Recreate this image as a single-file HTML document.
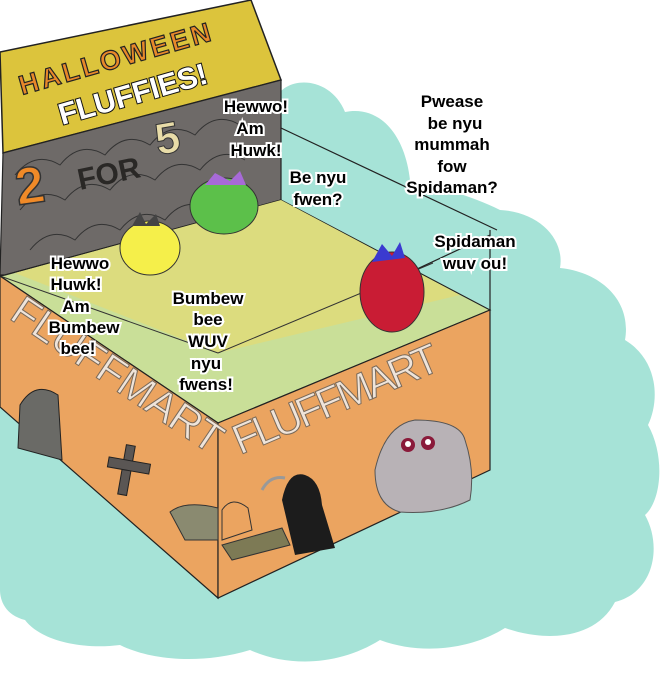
<!DOCTYPE html>
<html><head><meta charset="utf-8"><style>
html,body{margin:0;padding:0;background:#fff;}
svg{display:block}
.t{font-family:"Liberation Sans",sans-serif;font-weight:bold;font-size:17px;fill:#000;stroke:#fff;stroke-width:4px;paint-order:stroke;text-anchor:middle;}
.fm{font-family:"Liberation Sans",sans-serif;font-size:42px;fill:#efe4da;stroke:#7a6a5a;stroke-width:1px;}
</style></head><body>
<svg width="670" height="694" viewBox="0 0 670 694" xmlns="http://www.w3.org/2000/svg">
<path d="M275 100 C285 75,330 75,345 112 C380 105,405 135,410 180 C440 188,470 195,500 210 C540 212,565 240,560 268 C600 272,632 300,625 340 C658 360,660 400,648 425 C665 455,662 500,645 515 C662 545,655 592,615 602 C595 640,545 642,505 628 C470 650,420 655,380 640 C340 665,290 668,250 650 C200 665,150 660,120 645 C80 650,40 640,25 620 C5 615,0 600,0 590 L0 400 L275 200 Z" fill="#a6e3d7"/>
<polygon points="0,52 251,0 281,80 3,153" fill="#dcc43c" stroke="#222" stroke-width="1.5"/>
<polygon points="3,153 281,80 281,200 5,275 0,275" fill="#6e6a68" stroke="#222" stroke-width="1.2"/>
<g fill="none" stroke="#333" stroke-width="1">
<path d="M30 250 q20 -25 45 -10 q20 -25 45 -10 q20 -25 45 -10 q20 -25 45 -10 q20 -25 45 -10"/>
<path d="M20 210 q20 -25 45 -10 q20 -25 45 -10 q20 -25 45 -10 q20 -25 45 -10 q20 -25 45 -10"/>
<path d="M15 175 q20 -25 45 -10 q20 -25 45 -10 q20 -25 45 -10 q20 -25 45 -10 q20 -25 45 -10"/>
</g>
<polygon points="5,275 281,200 490,310 218,423 0,276" fill="#c9df98" stroke="#222" stroke-width="1.2"/>
<polygon points="15,273 281,200 460,295 218,353" fill="#dcdc7e"/>
<line x1="0" y1="276" x2="218" y2="353" stroke="#333" stroke-width="1"/>
<line x1="218" y1="353" x2="433" y2="263" stroke="#333" stroke-width="1"/>
<polygon points="0,276 218,423 218,598 0,407" fill="#eba460" stroke="#222" stroke-width="1.2"/>
<polygon points="218,423 490,310 490,470 218,598" fill="#eba460" stroke="#222" stroke-width="1.2"/>
<g stroke="#222" stroke-width="1.2" fill="none">
<line x1="281" y1="128" x2="497" y2="230"/>
<line x1="490" y1="230" x2="490" y2="310"/>
<line x1="372" y1="290" x2="490" y2="235"/>
</g>
<text x="22" y="95" transform="rotate(-16 22 95)" font-family="Liberation Sans,sans-serif" font-weight="bold" font-size="27" fill="#e8882a" stroke="#222" stroke-width="1.2" letter-spacing="3">HALLOWEEN</text>
<text x="62" y="125" transform="rotate(-16 62 125)" font-family="Liberation Sans,sans-serif" font-weight="bold" font-size="30" fill="#fff" stroke="#111" stroke-width="2" paint-order="stroke">FLUFFIES!</text>
<text x="18" y="205" font-family="Liberation Sans,sans-serif" font-weight="bold" font-size="52" fill="#f08a28" stroke="#333" stroke-width="1.5" transform="rotate(-8 18 205)">2</text>
<text x="80" y="190" font-family="Liberation Sans,sans-serif" font-weight="bold" font-size="30" fill="#2a2826" transform="rotate(-12 80 190)">FOR</text>
<text x="158" y="155" font-family="Liberation Sans,sans-serif" font-weight="bold" font-size="44" fill="#e8dca8" stroke="#333" stroke-width="1" transform="rotate(-10 158 155)">5</text>
<text class="fm" x="8" y="318" transform="rotate(34 8 318)" textLength="245">FLUFFMART</text>
<text class="fm" x="240" y="455" transform="rotate(-23 240 455)" textLength="220">FLUFFMART</text>
<ellipse cx="150" cy="248" rx="30" ry="27" fill="#f5ef4a" stroke="#333"/>
<path d="M132 226 l8 -14 l6 12 l10 -10 l4 12" fill="#444"/>
<ellipse cx="224" cy="206" rx="34" ry="28" fill="#5cc04a" stroke="#333"/>
<path d="M205 185 l10 -12 l15 8 l10 -10 l6 14" fill="#a76ad8"/>
<ellipse cx="392" cy="292" rx="32" ry="40" fill="#c91c34" stroke="#333"/>
<path d="M372 262 l10 -18 l10 12 l8 -14 l5 16" fill="#3a3ad0"/>
<path d="M18 448 L20 405 Q35 380 58 395 L62 460 Z" fill="#6a6a66" stroke="#222"/>
<rect x="122" y="445" width="9" height="50" fill="#5a5654" stroke="#222" transform="rotate(10 126 470)"/>
<rect x="108" y="460" width="42" height="10" fill="#5a5654" stroke="#222" transform="rotate(10 126 465)"/>
<path d="M170 512 Q185 500 218 508 L218 540 L185 540 Z" fill="#8a8a70" stroke="#333"/>
<path d="M222 540 L222 510 Q232 495 248 508 L252 530 Z" fill="#eba460" stroke="#333"/>
<path d="M222 545 L282 528 L290 545 L232 560 Z" fill="#7d7a55" stroke="#333"/>
<path d="M282 500 Q288 470 305 475 Q320 480 322 505 L335 548 L295 555 Z" fill="#1c1c1c"/>
<path d="M262 490 Q270 475 285 478" fill="none" stroke="#999" stroke-width="3"/>
<path d="M375 470 Q385 425 415 420 Q460 420 465 440 Q475 470 470 500 Q440 515 400 512 Q375 505 375 470 Z" fill="#b8b2b6" stroke="#555"/>
<circle cx="408" cy="445" r="7" fill="#8a1a3a"/><circle cx="428" cy="443" r="7" fill="#8a1a3a"/>
<circle cx="408" cy="444" r="3" fill="#fff"/><circle cx="428" cy="442" r="3" fill="#fff"/>
<text class="t"><tspan x="256" y="112">Hewwo!</tspan><tspan x="250" y="134">Am</tspan><tspan x="256" y="156">Huwk!</tspan></text>
<text class="t"><tspan x="318" y="183">Be nyu</tspan><tspan x="318" y="205">fwen?</tspan></text>
<text class="t"><tspan x="452" y="107">Pwease</tspan><tspan x="455" y="129">be nyu</tspan><tspan x="452" y="150">mummah</tspan><tspan x="452" y="172">fow</tspan><tspan x="452" y="193">Spidaman?</tspan></text>
<text class="t"><tspan x="475" y="247">Spidaman</tspan><tspan x="475" y="269">wuv ou!</tspan></text>
<text class="t"><tspan x="80" y="269">Hewwo</tspan><tspan x="76" y="290">Huwk!</tspan><tspan x="76" y="312">Am</tspan><tspan x="84" y="333">Bumbew</tspan><tspan x="78" y="354">bee!</tspan></text>
<text class="t"><tspan x="208" y="304">Bumbew</tspan><tspan x="208" y="325">bee</tspan><tspan x="208" y="347">WUV</tspan><tspan x="206" y="369">nyu</tspan><tspan x="206" y="390">fwens!</tspan></text>
</svg>
</body></html>
